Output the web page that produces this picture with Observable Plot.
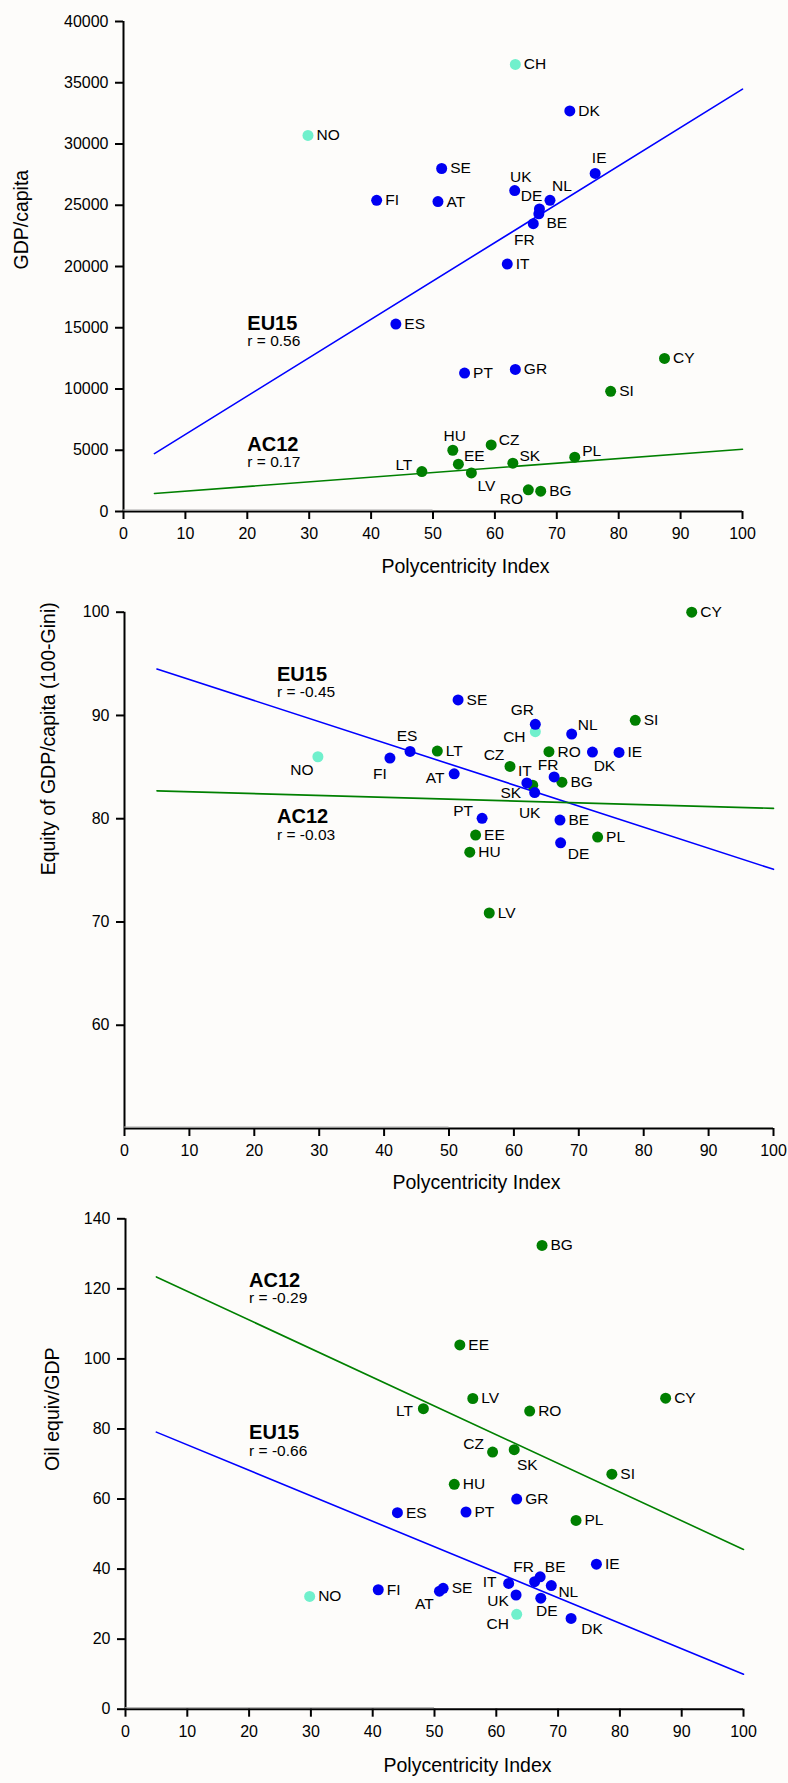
<!DOCTYPE html>
<html>
<head>
<meta charset="utf-8">
<script src="https://cdn.jsdelivr.net/npm/d3@7"></script>
<script src="https://cdn.jsdelivr.net/npm/@observablehq/plot@0.6"></script>
<style>
  html, body { margin: 0; padding: 0; background: #fdfcfa; }
  #charts svg { display: block; }
</style>
</head>
<body>
<div id="charts"></div>
<script>
// ---- data ----
const codes = ["AT","BE","DK","FI","FR","DE","GR","IE","IT","NL","PT","ES","SE","UK",
               "CY","CZ","EE","HU","LV","LT","PL","SK","SI","BG","RO","NO","CH"];
const groups = ["EU15","EU15","EU15","EU15","EU15","EU15","EU15","EU15","EU15","EU15","EU15","EU15","EU15","EU15",
                "AC12","AC12","AC12","AC12","AC12","AC12","AC12","AC12","AC12","AC12","AC12","Other","Other"];
const polycentricity = [50.8,67.1,72.1,40.9,66.2,67.2,63.3,76.2,62.0,68.9,55.1,44.0,51.4,63.2,
                        87.4,59.4,54.1,53.2,56.2,48.2,72.9,62.9,78.7,67.4,65.4,29.8,63.3];
const gdpPerCapita = [25300,24300,32700,25400,23500,24700,11600,27600,20200,25400,11300,15300,28000,26200,
                      12500,5430,3860,5000,3150,3260,4430,3940,9810,1660,1770,30700,36500];
const equityGdp = [84.35,79.87,86.45,85.87,84.05,77.67,89.14,86.42,83.47,88.2,80.04,86.52,91.5,82.53,
                   100.0,85.06,78.42,76.76,70.87,86.55,78.22,83.24,89.53,83.54,86.49,86.0,88.43];
const oilPerGdp = [33.7,37.8,25.9,34.1,36.4,31.7,60.0,41.4,35.9,35.3,56.3,56.1,34.5,32.6,
                   88.8,73.4,104.0,64.2,88.7,85.8,53.9,74.1,67.1,132.4,85.1,32.2,27.1];

const xTicks = [0,10,20,30,40,50,60,70,80,90,100];
const gdpTicks = [0,5000,10000,15000,20000,25000,30000,35000,40000];
const equityTicks = [60,70,80,90,100];
const oilTicks = [0,20,40,60,80,100,120,140];

// regression lines, end points (x = 5 and x = 100)
const fitX = [5, 100];
const gdpFitEU15 = [4730, 34480];
const gdpFitAC12 = [1470, 5080];
const equityFitEU15 = [94.5, 75.1];
const equityFitAC12 = [82.7, 81.0];
const oilFitEU15 = [79.1, 10.0];
const oilFitAC12 = [123.4, 45.6];

const groupNames = ["EU15", "AC12"];
const gdpR = ["r = 0.56", "r = 0.17"];
const equityR = ["r = -0.45", "r = -0.03"];
const oilR = ["r = -0.66", "r = -0.29"];
const gdpNoteX = [20, 20];     const gdpNoteY = [15350, 5490];
const equityNoteX = [23.5, 23.5]; const equityNoteY = [94.0, 80.2];
const oilNoteX = [20, 20];     const oilNoteY = [78.95, 122.4];

// faint grey stroke lying on the x axis between 0 and 50
const axisShadeX = [0, 50];

// ---- styles ----
const colors = {EU15: "#0000f2", AC12: "#007f00", Other: "#70f0cc"};
const lineColors = {EU15: "#0000ff", AC12: "#008000"};
const FONT = "'Liberation Sans', Arial, Helvetica, sans-serif";

// label offsets [dx, dy] (middle anchored); default = to the right of the point
const labels1 = {IE:[4,-15], UK:[6,-14], NL:[12,-14], DE:[-8,-13], BE:[18,9], FR:[-9,16], HU:[2,-14],
                 CZ:[18,-5], EE:[16,-8], SK:[17,-7], LT:[-18,-7], LV:[15,13], RO:[-17,9], PL:[17,-6]};
const labels2 = {GR:[-13,-14], CH:[-21,5], NL:[16,-9], NO:[-16,13], FI:[-10,16], ES:[-3,-15], AT:[-19,4],
                 CZ:[-16,-11], DK:[12,14], IT:[-2,-12], FR:[-6,-12], SK:[-22,8], UK:[-5,20], PT:[-19,-7], DE:[18,11]};
const labels3 = {LT:[-19,2], CZ:[-19,-8], SK:[13,15], FR:[-11,-15], BE:[15,-10], IT:[-19,-1], NL:[17,6],
                 AT:[-15,13], UK:[-18,6], DE:[6,13], CH:[-19,10], DK:[21,11]};

function makeChart(o) {
  const rows = codes.map((c, i) => ({code: c, group: groups[i], x: polycentricity[i], y: o.values[i]}));
  const order = ["Other", "AC12", "EU15"];
  rows.sort((a, b) => order.indexOf(a.group) - order.indexOf(b.group));
  const marks = [];
  marks.push(Plot.ruleX([0], {strokeWidth: 2, stroke: "black"}));
  marks.push(Plot.ruleY([o.yDomain[0]], {strokeWidth: 2, stroke: "black"}));
  marks.push(Plot.ruleY([o.yDomain[0]], {x1: axisShadeX[0], x2: axisShadeX[1], dy: -1.5, strokeWidth: 1, stroke: "#a8a8a8"}));
  marks.push(Plot.axisX({ticks: xTicks, tickSize: 8, tickPadding: 8, strokeWidth: 2, label: null, fontSize: 16, tickFormat: d => String(d)}));
  marks.push(Plot.axisY({ticks: o.yTicks, tickSize: 8, tickPadding: 7, strokeWidth: 2, label: null, fontSize: 16, tickFormat: d => String(d)}));
  // fit lines
  for (const [g, ys] of [["EU15", o.fitEU15], ["AC12", o.fitAC12]]) {
    marks.push(Plot.line(fitX.map((x, i) => ({x, y: ys[i]})), {x: "x", y: "y", stroke: lineColors[g], strokeWidth: 1.6}));
  }
  // points
  marks.push(Plot.dot(rows, {x: "x", y: "y", r: 5.5, fill: d => colors[d.group], stroke: null}));
  // point labels
  for (const d of rows) {
    const off = o.labelOffsets[d.code];
    if (off) {
      marks.push(Plot.text([d], {x: "x", y: "y", text: "code", dx: off[0], dy: off[1], textAnchor: "middle", fontSize: 15.5, fill: "black"}));
    } else {
      marks.push(Plot.text([d], {x: "x", y: "y", text: "code", dx: 8.5, dy: 0, textAnchor: "start", fontSize: 15.5, fill: "black"}));
    }
  }
  // group notes
  const notes = groupNames.map((g, i) => ({g, r: o.rTexts[i], x: o.noteX[i], y: o.noteY[i]}));
  marks.push(Plot.text(notes, {x: "x", y: "y", text: "g", textAnchor: "start", fontSize: 20, fontWeight: "bold", fill: "black"}));
  marks.push(Plot.text(notes, {x: "x", y: "y", text: "r", textAnchor: "start", fontSize: 15.5, dy: 18, fill: "black"}));
  // axis titles
  marks.push(Plot.text([o.yTitle], {text: d => d, frameAnchor: "left", rotate: -90, dx: o.yTitleDx, dy: o.yTitleDy, fontSize: 19.5, fill: "black"}));
  marks.push(Plot.text(["Polycentricity Index"], {text: d => d, frameAnchor: "bottom", dx: o.xTitleDx, dy: o.xTitleDy, fontSize: 19.5, fill: "black"}));

  return Plot.plot({
    width: 788,
    height: o.height,
    marginTop: o.marginTop,
    marginBottom: o.marginBottom,
    marginLeft: o.marginLeft,
    marginRight: o.marginRight,
    x: {domain: [0, 100]},
    y: {domain: o.yDomain},
    color: {type: "identity"},
    style: {fontFamily: FONT, fontSize: "15px", background: "#fdfcfa", color: "black", overflow: "visible"},
    marks
  });
}

const host = document.getElementById("charts");
host.appendChild(makeChart({
  values: gdpPerCapita, yDomain: [0, 40000], yTicks: gdpTicks,
  fitEU15: gdpFitEU15, fitAC12: gdpFitAC12,
  rTexts: gdpR, noteX: gdpNoteX, noteY: gdpNoteY, labelOffsets: labels1,
  yTitle: "GDP/capita", yTitleDx: -102, yTitleDy: 3, xTitleDx: 32.5, xTitleDy: 61,
  height: 595, marginTop: 21, marginBottom: 84, marginLeft: 123, marginRight: 46
}));
host.appendChild(makeChart({
  values: equityGdp, yDomain: [50, 100], yTicks: equityTicks,
  fitEU15: equityFitEU15, fitAC12: equityFitAC12,
  rTexts: equityR, noteX: equityNoteX, noteY: equityNoteY, labelOffsets: labels2,
  yTitle: "Equity of GDP/capita (100-Gini)", yTitleDx: -76, yTitleDy: 5, xTitleDx: 27.5, xTitleDy: 60,
  height: 605, marginTop: 16.7, marginBottom: 72, marginLeft: 124, marginRight: 15
}));
host.appendChild(makeChart({
  values: oilPerGdp, yDomain: [0, 140], yTicks: oilTicks,
  fitEU15: oilFitEU15, fitAC12: oilFitAC12,
  rTexts: oilR, noteX: oilNoteX, noteY: oilNoteY, labelOffsets: labels3,
  yTitle: "Oil equiv/GDP", yTitleDx: -72.5, yTitleDy: 7, xTitleDx: 33, xTitleDy: 63,
  height: 583, marginTop: 18.3, marginBottom: 74.3, marginLeft: 125, marginRight: 45
}));
</script>
</body>
</html>
